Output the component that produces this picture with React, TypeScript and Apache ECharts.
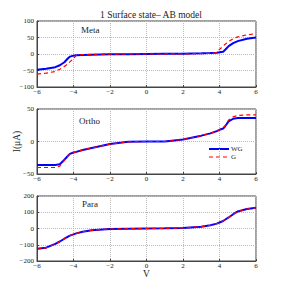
import React, { useEffect, useRef } from "react";
import * as echarts from "echarts";

const titleText = "1 Surface state\u2013 AB model";
const panelNames = ["Meta", "Ortho", "Para"];
const legendNames = ["WG", "G"];
const xTicks = { min: -6, max: 6, interval: 2 };

const xs = [-6, -5.5, -5, -4.75, -4.5, -4.3, -4.2, -4, -3.85, -3.5, -3, -2, -1, 0, 1, 2, 3, 3.5, 3.85, 4, 4.2, 4.3, 4.5, 4.75, 5, 5.5, 6];

const metaWG = [-48, -45, -40, -34, -25, -13, -8, -5, -4, -3, -2, -1, -0.5, 0, 0.5, 1, 2, 3, 4, 5, 7, 12, 24, 33, 39, 46, 50];
const metaG = [-61, -58, -53, -46, -38, -29, -24, -14, -4, -2, -1, -0.5, 0, 0, 0, 0.5, 1, 2, 4, 14, 24, 29, 38, 46, 52, 58, 62];

const orthoWG = [-36, -36, -36, -35, -28, -22, -19, -17, -16, -13, -10, -4, -0.5, 0, 0, 3, 9, 12.5, 16, 18, 20, 23, 31, 35, 36, 36, 36];
const orthoG = [-40, -40, -40, -38, -29, -22, -19, -17, -16, -13, -10, -4, -0.5, 0, 0, 3, 9, 12.5, 16, 18, 21, 24, 33, 38, 40, 41, 41];

const paraWG = [-125, -118, -95, -80, -63, -50, -44, -36, -30, -20, -11, -3, -1, 0, 1, 3, 11, 20, 30, 37, 46, 54, 68, 88, 105, 120, 127];
const paraG = [-126, -119, -96, -80, -63, -50, -44, -36, -30, -20, -11, -3, -1, 0, 1, 3, 11, 20, 30, 37, 46, 54, 68, 88, 105, 120, 127];

const yRanges = [
  { min: -100, max: 100, interval: 50 },
  { min: -50, max: 50, interval: 50 },
  { min: -200, max: 200, interval: 100 },
];

const wgSets = [metaWG, orthoWG, paraWG];
const gSets = [metaG, orthoG, paraG];

const FONT = "'Liberation Serif', 'DejaVu Serif', serif";
const BLUE = "#0000ff";
const RED = "#ff0000";

const pairs = (ys: number[]) => xs.map((x, i) => [x, ys[i]]);
const fmt = (v: number) => String(v).replace("-", "\u2212");

const grids = [
  { left: 37, top: 21, width: 219, height: 66 },
  { left: 37, top: 109, width: 219, height: 65 },
  { left: 37, top: 196, width: 219, height: 65 },
];

export default function App() {
  const ref = useRef<HTMLDivElement>(null);
  useEffect(() => {
    if (!ref.current) return;
    const chart = echarts.init(ref.current, null, { renderer: "svg" });
    const axisCommon = {
      axisLine: { show: true, onZero: false, lineStyle: { color: "#444", width: 1 } },
      axisTick: { show: true, inside: true, length: 2, lineStyle: { color: "#444" } },
      splitLine: { show: true, lineStyle: { color: "#bbb", type: "dotted", width: 1 } },
      axisLabel: { fontFamily: FONT, fontSize: 7, lineHeight: 7, color: "#222", formatter: fmt },
    };
    const series: any[] = [];
    for (let i = 0; i < 3; i++) {
      series.push({
        name: legendNames[0],
        type: "line",
        xAxisIndex: i,
        yAxisIndex: i,
        data: pairs(wgSets[i]),
        showSymbol: false,
        symbol: "none",
        lineStyle: { color: BLUE, width: 2 },
        itemStyle: { color: BLUE },
        z: 2,
      });
      series.push({
        name: legendNames[1],
        type: "line",
        xAxisIndex: i,
        yAxisIndex: i,
        data: pairs(gSets[i]),
        showSymbol: false,
        symbol: "none",
        lineStyle: { color: RED, width: 1.2, type: [4, 3] },
        itemStyle: { color: RED },
        z: 3,
      });
    }
    const legendGraphic: any[] = [];
    legendNames.forEach((n, k) => {
      const y = 149 + k * 8;
      legendGraphic.push({
        type: "line",
        shape: { x1: 209, y1: y, x2: 229, y2: y },
        style: k === 0 ? { stroke: BLUE, lineWidth: 2 } : { stroke: RED, lineWidth: 1.2, lineDash: [4, 3] },
      });
      legendGraphic.push({
        type: "text",
        x: 231,
        y: y,
        style: { text: n, fontFamily: FONT, fontSize: 7, fill: "#222", verticalAlign: "middle" },
      });
    });
    chart.setOption({
      animation: false,
      backgroundColor: "#ffffff",
      title: {
        text: titleText,
        left: 146,
        top: 5,
        textAlign: "center",
        textStyle: { fontFamily: FONT, fontSize: 9.5, fontWeight: "normal", color: "#222" },
      },
      grid: grids.map((g) => ({ ...g, show: true, borderColor: "#444", borderWidth: 1, backgroundColor: "transparent" })),
      xAxis: grids.map((_, i) => ({
        type: "value",
        gridIndex: i,
        ...xTicks,
        ...axisCommon,
        axisLabel: { ...axisCommon.axisLabel, margin: 1 },
        name: i === 2 ? "V" : "",
        nameLocation: "middle",
        nameGap: 8,
        nameMoveOverlap: false,
        nameTextStyle: { fontFamily: FONT, fontSize: 9.5, lineHeight: 10, color: "#222", verticalAlign: "top" },
      })),
      yAxis: grids.map((_, i) => ({
        type: "value",
        gridIndex: i,
        ...yRanges[i],
        ...axisCommon,
        axisLabel: { ...axisCommon.axisLabel, margin: 3 },
        name: i === 1 ? "I(\u03bcA)" : "",
        nameLocation: "middle",
        nameRotate: 90,
        nameGap: 15,
        nameMoveOverlap: false,
        nameTextStyle: { fontFamily: FONT, fontSize: 9.5, color: "#222" },
      })),
      graphic: [
        ...panelNames.map((n, i) => ({
          type: "text",
          left: [81, 79, 82][i],
          top: [25, 116, 199][i],
          style: { text: n, fontFamily: FONT, fontSize: 9, fill: "#222" },
        })),
        ...legendGraphic,
      ],
      series,
    });
    return () => chart.dispose();
  }, []);
  return (
    <div
      ref={ref}
      style={{ position: "fixed", left: 0, top: 0, width: 283, height: 291, background: "#fff" }}
    />
  );
}
